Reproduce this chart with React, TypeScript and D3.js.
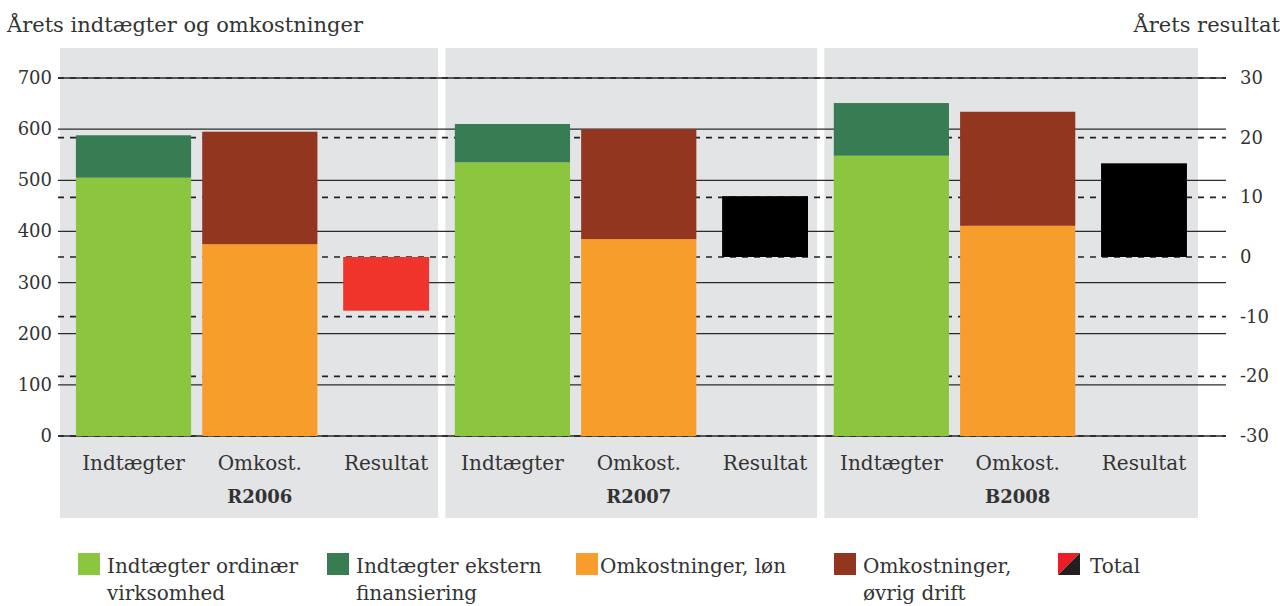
import React from "react";
import * as d3 from "d3";

const groups = ["R2006", "R2007", "B2008"];
const columns = ["Indtægter", "Omkost.", "Resultat"];
const incomeOrdinary = [505, 535, 548];
const incomeExternal = [83, 75, 103];
const costSalary = [375, 385, 411];
const costOther = [220, 215, 223];
const result = [-9, 10.2, 15.7];
const leftTicks = [0, 100, 200, 300, 400, 500, 600, 700];
const rightTicks = [-30, -20, -10, 0, 10, 20, 30];
const legendLabels = [
  ["Indtægter ordinær", "virksomhed"],
  ["Indtægter ekstern", "finansiering"],
  ["Omkostninger, løn"],
  ["Omkostninger,", "øvrig drift"],
  ["Total"],
];

const C = {
  green: "#8cc63f",
  darkGreen: "#377c52",
  orange: "#f79d2b",
  brown: "#923620",
  red: "#f0342c",
  black: "#000000",
  panel: "#e3e4e6",
  text: "#333333",
};
const FONT = "'DejaVu Serif', serif";

export default function App() {
  const W = 1288;
  const H = 606;
  const yL = d3.scaleLinear().domain([0, 700]).range([436, 78]);
  const yR = d3.scaleLinear().domain([-30, 30]).range([436, 78]);
  const cols = groups.flatMap((g) => columns.map((c) => `${g}|${c}`));
  const x = d3.scalePoint().domain(cols).range([133.5, 1144]);
  const step = x.step();
  const barW = step * 0.912;
  const resW = step * 0.68;
  const legendX = [78, 327, 576, 834, 1058];

  return (
    <svg width={W} height={H} style={{ position: "absolute", left: 0, top: 0 }} fontFamily={FONT}>
      <text x={7} y={32} fontSize={21} fill={C.text}>Årets indtægter og omkostninger</text>
      <text x={1280} y={32} fontSize={21} fill={C.text} textAnchor="end">Årets resultat</text>

      {groups.map((g, i) => {
        const x0 = i === 0 ? 60 : (x(`${g}|Indtægter`) as number) - 67;
        const x1 = i === 2 ? 1198 : (x(`${g}|Resultat`) as number) + 52;
        return <rect key={g} x={x0} y={48} width={x1 - x0} height={470} fill={C.panel} />;
      })}

      {leftTicks.map((t) => (
        <g key={"l" + t}>
          <line x1={58} x2={1226} y1={yL(t)} y2={yL(t)} stroke="#2b2b2b" strokeWidth={1.3} />
          <text x={52} y={yL(t) + 6} fontSize={18} textAnchor="end" fill={C.text}>{t}</text>
        </g>
      ))}
      {rightTicks.map((t) => (
        <g key={"r" + t}>
          <line x1={58} x2={1226} y1={yR(t)} y2={yR(t)} stroke="#222" strokeWidth={1.6} strokeDasharray="6,6" />
          <text x={1240} y={yR(t) + 6} fontSize={18} fill={C.text}>{t}</text>
        </g>
      ))}

      {groups.map((g, i) => {
        const xi = (x(`${g}|Indtægter`) as number) - barW / 2;
        const xo = (x(`${g}|Omkost.`) as number) - barW / 2;
        const xr = (x(`${g}|Resultat`) as number) - resW / 2;
        const r = result[i];
        return (
          <g key={g}>
            <rect x={xi} y={yL(incomeOrdinary[i])} width={barW} height={yL(0) - yL(incomeOrdinary[i])} fill={C.green} />
            <rect x={xi} y={yL(incomeOrdinary[i] + incomeExternal[i])} width={barW} height={yL(incomeOrdinary[i]) - yL(incomeOrdinary[i] + incomeExternal[i])} fill={C.darkGreen} />
            <rect x={xo} y={yL(costSalary[i])} width={barW} height={yL(0) - yL(costSalary[i])} fill={C.orange} />
            <rect x={xo} y={yL(costSalary[i] + costOther[i])} width={barW} height={yL(costSalary[i]) - yL(costSalary[i] + costOther[i])} fill={C.brown} />
            <rect x={xr} y={yR(Math.max(0, r))} width={resW} height={Math.abs(yR(r) - yR(0))} fill={r < 0 ? C.red : C.black} />
            {columns.map((c) => (
              <text key={c} x={x(`${g}|${c}`) as number} y={470} fontSize={20} textAnchor="middle" fill={C.text}>{c}</text>
            ))}
            <text x={x(`${g}|Omkost.`) as number} y={503} fontSize={18} fontWeight="bold" textAnchor="middle" fill={C.text}>{g}</text>
          </g>
        );
      })}

      {legendLabels.map((lines, i) => {
        const lx = legendX[i];
        const colors = [C.green, C.darkGreen, C.orange, C.brown];
        return (
          <g key={i}>
            {i < 4 ? (
              <rect x={lx} y={553} width={22} height={22} fill={colors[i]} />
            ) : (
              <g>
                <polygon points={`${lx},553 ${lx + 22},553 ${lx},575`} fill="#ee1c25" />
                <polygon points={`${lx + 22},553 ${lx + 22},575 ${lx},575`} fill="#231f20" />
              </g>
            )}
            {lines.map((ln, j) => (
              <text key={j} x={lx + (i === 2 ? 24 : i === 4 ? 32 : 29)} y={573 + j * 27} fontSize={20} fill={C.text}>{ln}</text>
            ))}
          </g>
        );
      })}
    </svg>
  );
}
